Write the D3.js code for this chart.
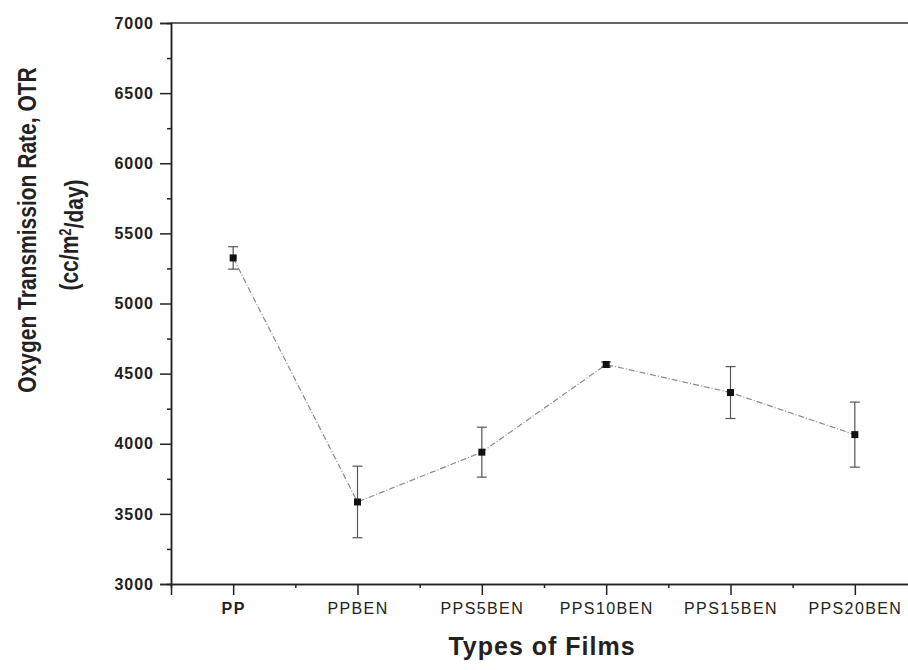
<!DOCTYPE html>
<html>
<head>
<meta charset="utf-8">
<script src="https://d3js.org/d3.v7.min.js"></script>
<style>
  body { margin: 0; background: #fff; }
  text { font-family: "Liberation Sans", Arial, sans-serif; fill: #222; }
</style>
</head>
<body>
<svg width="908" height="670"></svg>
<script>
const films = ["PP", "PPBEN", "PPS5BEN", "PPS10BEN", "PPS15BEN", "PPS20BEN"];
const otr = [5325, 3585, 3940, 4565, 4365, 4065];
const otrErr = [80, 255, 178, 18, 185, 232];
const yTicks = [3000, 3500, 4000, 4500, 5000, 5500, 6000, 6500, 7000];

let svg = d3.select("svg");

// plot area (right side runs past the picture edge)
let plotLeft = 171, plotRight = 917, plotTop = 23, plotBottom = 584;

let xScale = d3.scaleLinear().domain([0.5, 6.5]).range([plotLeft, plotRight]);
let yScale = d3.scaleLinear().domain([3000, 7000]).range([plotBottom, plotTop]);

// minor ticks
let yMinor = d3.axisLeft(yScale).tickValues(d3.range(3250, 7000, 500)).tickSize(4).tickFormat("");
let xMinor = d3.axisBottom(xScale).tickValues(d3.range(1.5, 6.5, 1)).tickSize(4).tickFormat("");

svg.append("g").attr("transform", `translate(${plotLeft},0)`).call(yMinor);
svg.append("g").attr("transform", `translate(0,${plotBottom})`).call(xMinor);

// major y axis
let leftAxis = d3.axisLeft(yScale).tickValues(yTicks).tickSize(11).tickPadding(6).tickFormat(d3.format("d"));
let yG = svg.append("g").attr("transform", `translate(${plotLeft},0)`).call(leftAxis);
yG.selectAll("text")
  .style("font-size", "16px")
  .style("font-weight", "bold")
  .style("letter-spacing", "1px")
  .attr("fill", "#2a2a2a");

// major x axis
let bottomAxis = d3.axisBottom(xScale).tickValues(d3.range(1, 7)).tickSize(11).tickPadding(8)
  .tickFormat(d => films[d - 1]);
let xG = svg.append("g").attr("transform", `translate(0,${plotBottom})`).call(bottomAxis);
xG.selectAll("text")
  .style("font-size", "16px")
  .style("letter-spacing", "1.4px")
  .style("font-weight", d => d === 1 ? "bold" : "normal")
  .attr("fill", "#1a1a1a");

svg.selectAll(".domain").attr("stroke", "#222").attr("stroke-width", 1.5);
svg.selectAll(".tick line").attr("stroke", "#222").attr("stroke-width", 1.5);

// top frame line
svg.append("line")
  .attr("x1", plotLeft).attr("x2", plotRight)
  .attr("y1", plotTop).attr("y2", plotTop)
  .attr("stroke", "#333").attr("stroke-width", 1.5);

// connecting line
let pts = films.map((f, i) => ({ i: i + 1, v: otr[i], e: otrErr[i] }));
let lineGen = d3.line().x(d => xScale(d.i)).y(d => yScale(d.v));

svg.append("path")
  .datum(pts)
  .attr("fill", "none")
  .attr("stroke", "#8a8a8a")
  .attr("stroke-width", 1.2)
  .attr("stroke-dasharray", "6,2,1,2")
  .attr("d", lineGen);

// error bars
let eb = svg.selectAll(".err").data(pts).join("g").attr("class", "err")
  .attr("stroke", "#555").attr("stroke-width", 1.2);
eb.append("line")
  .attr("x1", d => xScale(d.i)).attr("x2", d => xScale(d.i))
  .attr("y1", d => yScale(d.v + d.e)).attr("y2", d => yScale(d.v - d.e));
eb.append("line")
  .attr("x1", d => xScale(d.i) - 5).attr("x2", d => xScale(d.i) + 5)
  .attr("y1", d => yScale(d.v + d.e)).attr("y2", d => yScale(d.v + d.e));
eb.append("line")
  .attr("x1", d => xScale(d.i) - 5).attr("x2", d => xScale(d.i) + 5)
  .attr("y1", d => yScale(d.v - d.e)).attr("y2", d => yScale(d.v - d.e));

// square markers
svg.selectAll(".pt").data(pts).join("rect").attr("class", "pt")
  .attr("x", d => xScale(d.i) - 3.5)
  .attr("y", d => yScale(d.v) - 3.5)
  .attr("width", 7).attr("height", 7)
  .attr("fill", "#111");

// axis titles
svg.append("text")
  .attr("x", 542).attr("y", 655)
  .attr("text-anchor", "middle")
  .style("font-size", "25px")
  .style("font-weight", "bold")
  .style("letter-spacing", "1px")
  .text("Types of Films");

// y title, stretched across like the scan
svg.append("text")
  .attr("transform", "translate(36,230) scale(1.25,1) rotate(-90)")
  .attr("text-anchor", "middle")
  .style("font-size", "21px")
  .style("font-weight", "bold")
  .text("Oxygen Transmission Rate, OTR");

let t2 = svg.append("text")
  .attr("transform", "translate(78,235) scale(1.25,1) rotate(-90)")
  .attr("text-anchor", "middle")
  .style("font-size", "21px")
  .style("font-weight", "bold");
t2.append("tspan").text("(cc/m");
t2.append("tspan").attr("dy", "-0.45em").style("font-size", "13px").text("2");
t2.append("tspan").attr("dy", "0.45em").text("/day)");
</script>
</body>
</html>
